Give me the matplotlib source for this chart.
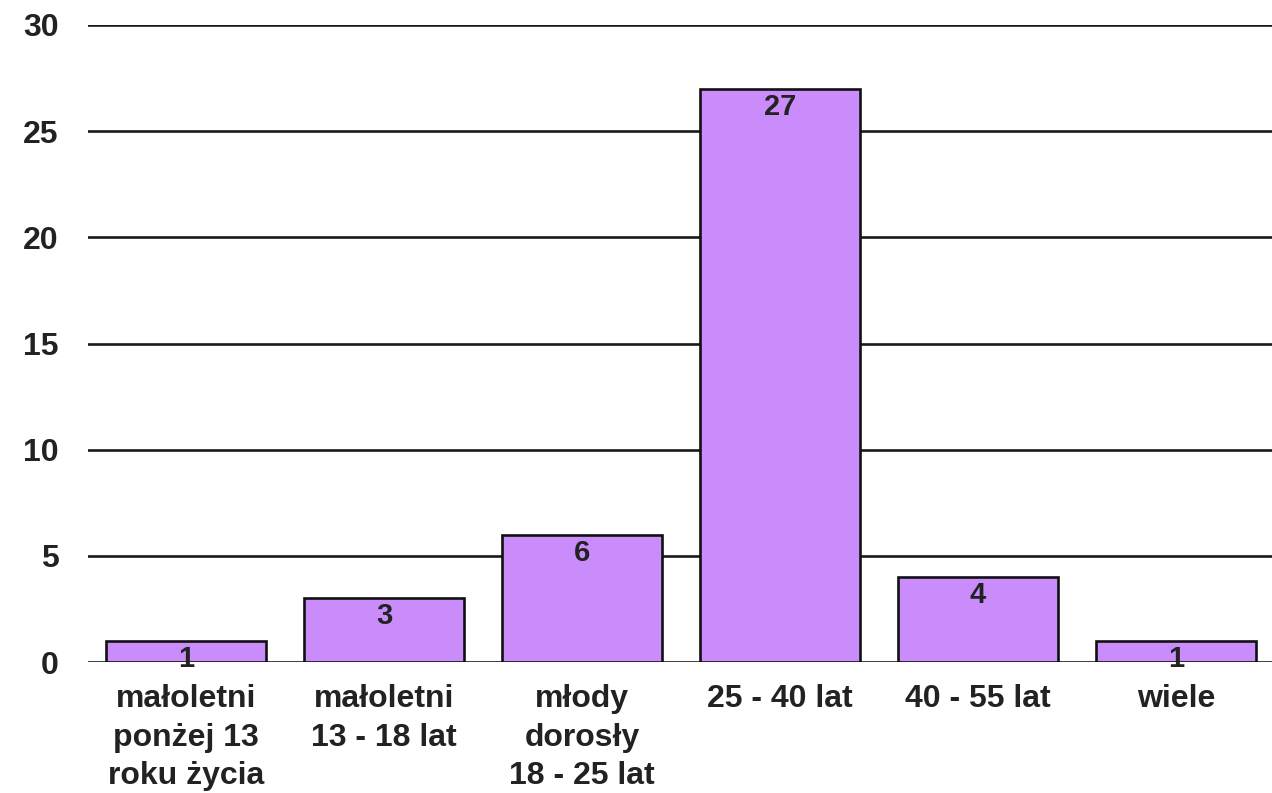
import matplotlib
matplotlib.use("Agg")
import matplotlib.pyplot as plt

categories = ["małoletni\nponżej 13\nroku życia", "małoletni\n13 - 18 lat",
              "młody\ndorosły\n18 - 25 lat", "25 - 40 lat", "40 - 55 lat", "wiele"]
values = [1, 3, 6, 27, 4, 1]
yticks = [0, 5, 10, 15, 20, 25, 30]

plt.rcParams['font.family'] = ['Liberation Sans', 'DejaVu Sans']
plt.rcParams['font.weight'] = 'bold'
TXT = '#222222'
BAR = '#c98cfa'

fig = plt.figure(figsize=(12.72, 7.93), dpi=100)
ax = fig.add_axes([88 / 1272, 131 / 793, 1 - 88 / 1272, (662 - 25) / 793])

x = list(range(len(categories)))
for t in yticks:
    ax.axhline(t, color='#1a1a1a', lw=1.9, zorder=0.5)
ax.bar(x, values, width=0.808, color=BAR, edgecolor='#111111', linewidth=1.9, zorder=2)

for xi, v in zip(x, values):
    ax.annotate(str(v), (xi, v), xytext=(0, -3), textcoords='offset points',
                ha='center', va='top', fontsize=21, fontweight='bold', color=TXT, zorder=3)

ax.set_xlim(-0.495, 5.485)
ax.set_ylim(0, 30)
ax.set_yticks(yticks)
ax.set_yticklabels([str(t) for t in yticks], fontsize=23, fontweight='bold', color=TXT)
ax.set_xticks(x)
ax.set_xticklabels(categories, fontsize=23, fontweight='bold', color=TXT, linespacing=1.36)
ax.tick_params(axis='both', length=0)
ax.tick_params(axis='y', pad=21)
ax.tick_params(axis='x', pad=16)
for s in ax.spines.values():
    s.set_visible(False)
ax.patch.set_alpha(0)

fig.savefig('out.png', dpi=100, facecolor='white')
